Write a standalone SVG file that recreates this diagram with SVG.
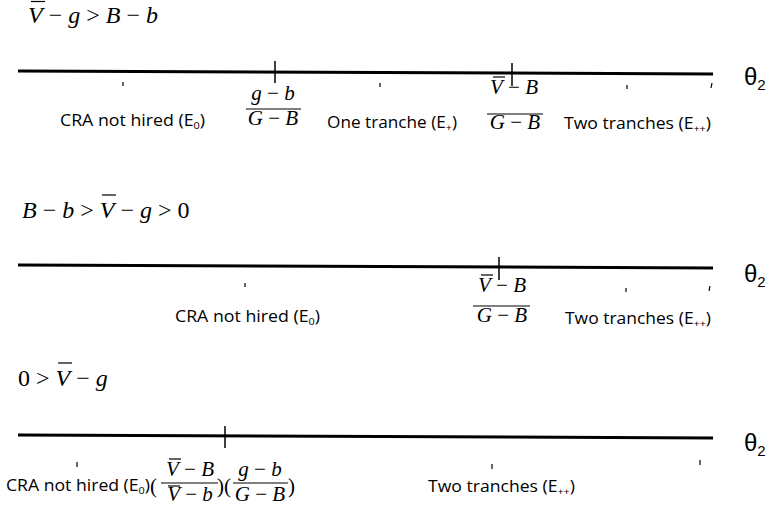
<svg xmlns="http://www.w3.org/2000/svg" width="779" height="513" viewBox="0 0 779 513">
<style>
.m{font-family:"Liberation Serif",serif;font-size:24px;fill:#000}
.f{font-family:"Liberation Serif",serif;font-size:21px;fill:#000}
.i{font-style:italic}
.l{font-family:"Open Sans","Liberation Sans",sans-serif;font-size:15.5px;fill:#000}
.s{font-size:9.5px}
.t{font-family:"Liberation Sans",sans-serif;font-size:24px;fill:#000}
.axis{stroke:#000;stroke-width:3;fill:none}
.tick{stroke:#000;stroke-width:1.5}
.bar{stroke:#000;stroke-width:1.2}
.ob{stroke:#000;stroke-width:1.2}
.dot{stroke:#000;stroke-width:1.2}
</style>
<rect width="779" height="513" fill="#fff"/>

<g id="connectors">
<line class="axis" x1="18" y1="71" x2="713" y2="74"/>
<line class="axis" x1="18" y1="265" x2="713" y2="268"/>
<line class="axis" x1="18" y1="435" x2="713" y2="438"/>
<line class="tick" x1="275" y1="61" x2="275" y2="83"/>
<line class="tick" x1="512" y1="63" x2="512" y2="86"/>
<line class="tick" x1="499" y1="257" x2="499" y2="280"/>
<line class="tick" x1="225" y1="426" x2="225" y2="448"/>
</g>

<!-- Case 1 -->
<g id="case1-condition">
<text class="m" x="28" y="23"><tspan class="i">V</tspan> − <tspan class="i">g</tspan> &gt; <tspan class="i">B</tspan> − <tspan class="i">b</tspan></text>
<line class="ob" x1="31" y1="1.5" x2="45" y2="1.5"/>
</g>
<g id="case1-axis-label"><text class="t" x="744" y="85">θ<tspan font-size="15" dy="5">2</tspan></text></g>
<g id="case1-threshold1">
<text class="f" x="273" y="100" text-anchor="middle"><tspan class="i">g</tspan> − <tspan class="i">b</tspan></text>
<line class="bar" x1="246" y1="109" x2="301" y2="109"/>
<text class="f" x="273" y="125" text-anchor="middle"><tspan class="i">G</tspan> − <tspan class="i">B</tspan></text>
</g>
<g id="case1-threshold2">
<text class="f" x="514" y="94" text-anchor="middle"><tspan class="i">V</tspan> − <tspan class="i">B</tspan></text>
<line class="ob" x1="493" y1="77" x2="505" y2="77"/>
<line class="bar" x1="487" y1="114" x2="543" y2="114"/>
<text class="f" x="515" y="129" text-anchor="middle"><tspan class="i">G</tspan> − <tspan class="i">B</tspan></text>
</g>
<g id="case1-region0"><text class="l" x="60" y="126" textLength="145" lengthAdjust="spacingAndGlyphs">CRA not hired (E<tspan class="s" dy="3">0</tspan><tspan dy="-3">)</tspan></text></g>
<g id="case1-region1"><text class="l" x="327" y="128" textLength="130" lengthAdjust="spacingAndGlyphs">One tranche (E<tspan class="s" dy="3">+</tspan><tspan dy="-3">)</tspan></text></g>
<g id="case1-region2"><text class="l" x="564" y="129" textLength="147" lengthAdjust="spacingAndGlyphs">Two tranches (E<tspan class="s" dy="3">++</tspan><tspan dy="-3">)</tspan></text></g>

<!-- Case 2 -->
<g id="case2-condition">
<text class="m" x="22" y="218"><tspan class="i">B</tspan> − <tspan class="i">b</tspan> &gt; <tspan class="i">V</tspan> − <tspan class="i">g</tspan> &gt; 0</text>
<line class="ob" x1="102" y1="195" x2="116" y2="195"/>
</g>
<g id="case2-axis-label"><text class="t" x="744" y="282">θ<tspan font-size="15" dy="5">2</tspan></text></g>
<g id="case2-threshold">
<text class="f" x="502" y="292" text-anchor="middle"><tspan class="i">V</tspan> − <tspan class="i">B</tspan></text>
<line class="ob" x1="481" y1="275" x2="493" y2="275"/>
<line class="bar" x1="473" y1="306" x2="530" y2="306"/>
<text class="f" x="502" y="322" text-anchor="middle"><tspan class="i">G</tspan> − <tspan class="i">B</tspan></text>
</g>
<g id="case2-region0"><text class="l" x="175" y="322" textLength="145" lengthAdjust="spacingAndGlyphs">CRA not hired (E<tspan class="s" dy="3">0</tspan><tspan dy="-3">)</tspan></text></g>
<g id="case2-region2"><text class="l" x="565" y="324" textLength="146" lengthAdjust="spacingAndGlyphs">Two tranches (E<tspan class="s" dy="3">++</tspan><tspan dy="-3">)</tspan></text></g>

<!-- Case 3 -->
<g id="case3-condition">
<text class="m" x="18" y="386">0 &gt; <tspan class="i">V</tspan> − <tspan class="i">g</tspan></text>
<line class="ob" x1="58" y1="363" x2="72" y2="363"/>
</g>
<g id="case3-axis-label"><text class="t" x="744" y="451">θ<tspan font-size="15" dy="5">2</tspan></text></g>
<g id="case3-region0"><text class="l" x="6" y="491" textLength="144" lengthAdjust="spacingAndGlyphs">CRA not hired (E<tspan class="s" dy="3">0</tspan><tspan dy="-3">)</tspan></text></g>
<g id="case3-threshold">
<text class="f" x="150" y="493">(</text>
<text class="f" x="190" y="476" text-anchor="middle"><tspan class="i">V</tspan> − <tspan class="i">B</tspan></text>
<line class="ob" x1="169" y1="459" x2="181" y2="459"/>
<line class="bar" x1="161" y1="483" x2="218" y2="483"/>
<text class="f" x="190" y="501" text-anchor="middle"><tspan class="i">V</tspan> − <tspan class="i">b</tspan></text>
<line class="ob" x1="168" y1="486" x2="180" y2="486"/>
<text class="f" x="217" y="493">)(</text>
<text class="f" x="260" y="476" text-anchor="middle"><tspan class="i">g</tspan> − <tspan class="i">b</tspan></text>
<line class="bar" x1="233" y1="483" x2="288" y2="483"/>
<text class="f" x="260" y="501" text-anchor="middle"><tspan class="i">G</tspan> − <tspan class="i">B</tspan></text>
<text class="f" x="288" y="493">)</text>
</g>
<g id="case3-region2"><text class="l" x="428" y="492" textLength="147" lengthAdjust="spacingAndGlyphs">Two tranches (E<tspan class="s" dy="3">++</tspan><tspan dy="-3">)</tspan></text></g>

<g id="scan-marks">
<line class="dot" x1="123" y1="82" x2="123" y2="86"/>
<line class="dot" x1="380" y1="83" x2="380" y2="87"/>
<line class="dot" x1="627" y1="85" x2="627" y2="89"/>
<line class="dot" x1="712" y1="83" x2="711" y2="88"/>
<line class="dot" x1="245" y1="283" x2="245" y2="287"/>
<line class="dot" x1="626" y1="288" x2="626" y2="292"/>
<line class="dot" x1="710" y1="286" x2="709" y2="291"/>
<line class="dot" x1="77" y1="462" x2="77" y2="467"/>
<line class="dot" x1="492" y1="464" x2="492" y2="469"/>
<line class="dot" x1="700" y1="460" x2="700" y2="465"/>
</g>
</svg>
